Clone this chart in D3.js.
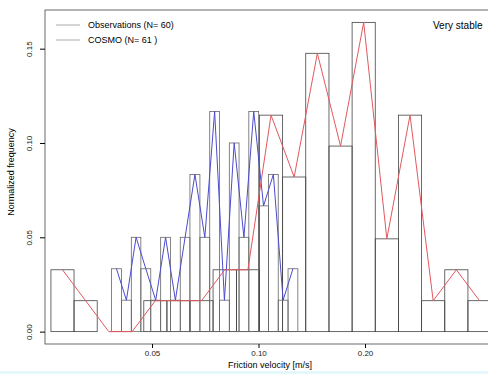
<!DOCTYPE html>
<html>
<head>
<meta charset="utf-8">
<script src="https://cdn.jsdelivr.net/npm/d3@7"></script>
<style>
body { margin: 0; background: #fff; }
text { font-family: "Liberation Sans", Arial, sans-serif; }
</style>
</head>
<body>
<script>
// bin breaks (log x axis)
let cosmoBreaks = [0.0259, 0.0301, 0.0350, 0.0407, 0.0474, 0.0551, 0.0640, 0.0744, 0.0866, 0.1006,
                   0.1170, 0.1360, 0.1582, 0.1839, 0.2138, 0.2486, 0.2891, 0.3361, 0.3908, 0.4544];
let cosmoCounts = [2, 1, 0, 0, 1, 1, 1, 2, 2, 7, 5, 9, 6, 10, 3, 7, 1, 2, 1];

let obsBreaks = [0.0384, 0.0410, 0.0437, 0.0465, 0.0496, 0.0529, 0.0564, 0.0601, 0.0640, 0.0683,
                 0.0728, 0.0776, 0.0827, 0.0881, 0.0939, 0.1001, 0.1067, 0.1137, 0.1212, 0.1292];
let obsCounts = [2, 1, 3, 2, 1, 3, 1, 3, 5, 3, 7, 1, 6, 3, 7, 4, 5, 1, 2];

let nObs = 60;
let nCosmo = 61;

let xTicks = [0.05, 0.10, 0.20];
let yTicks = [0.00, 0.05, 0.10, 0.15];

let w = 488, h = 374;
let padL = 45, padR = 495, padT = 10, padB = 344;

let svg = d3.select("body").append("svg")
    .attr("width", w)
    .attr("height", h);

let xScale = d3.scaleLog()
    .domain([0.05, 0.2])
    .range([152, 365]);

let ymax = d3.max(cosmoCounts) / nCosmo;
let yScale = d3.scaleLinear()
    .domain([-0.04 * ymax, 1.04 * ymax])
    .range([padB, padT]);

function bins(breaks, counts, n) {
  return counts.map((c, i) => ({x0: breaks[i], x1: breaks[i + 1], y: c / n}));
}
let cosmo = bins(cosmoBreaks, cosmoCounts, nCosmo);
let obs = bins(obsBreaks, obsCounts, nObs);

// histogram outlines
function drawBars(data, col) {
  svg.append("g").selectAll("rect")
    .data(data)
    .enter()
    .append("rect")
    .attr("x", d => xScale(d.x0))
    .attr("width", d => xScale(d.x1) - xScale(d.x0))
    .attr("y", d => yScale(d.y))
    .attr("height", d => yScale(0) - yScale(d.y))
    .attr("fill", "none")
    .attr("stroke", col)
    .attr("stroke-width", 0.8);
}
drawBars(cosmo, "#444");
drawBars(obs, "#666");

// frequency polygons
let poly = d3.line()
    .x(d => (xScale(d.x0) + xScale(d.x1)) / 2)
    .y(d => yScale(d.y));

svg.append("path")
    .datum(obs)
    .attr("d", poly)
    .attr("fill", "none")
    .attr("stroke", "#4b4bd0")
    .attr("stroke-width", 1);

svg.append("path")
    .datum(cosmo)
    .attr("d", poly)
    .attr("fill", "none")
    .attr("stroke", "#e2585e")
    .attr("stroke-width", 1);

// frame
svg.append("rect")
    .attr("x", padL).attr("y", padT)
    .attr("width", padR - padL).attr("height", padB - padT)
    .attr("fill", "none")
    .attr("stroke", "#444")
    .attr("stroke-width", 0.8);

// axes
let xAxis = d3.axisBottom(xScale)
    .tickValues(xTicks)
    .tickFormat(d3.format(".2f"))
    .tickSize(4)
    .tickPadding(2);
let gx = svg.append("g")
    .attr("transform", "translate(0," + padB + ")")
    .call(xAxis);
gx.select(".domain").remove();
gx.selectAll("text").attr("font-size", 8).attr("fill", "#222");

let yAxis = d3.axisLeft(yScale)
    .tickValues(yTicks)
    .tickFormat(d3.format(".2f"))
    .tickSize(5)
    .tickPadding(3);
let gy = svg.append("g")
    .attr("transform", "translate(" + padL + ",0)")
    .call(yAxis);
gy.select(".domain").remove();
gy.selectAll("text")
    .attr("font-size", 8)
    .attr("fill", "#222")
    .attr("text-anchor", "middle")
    .attr("x", 0).attr("dy", 0)
    .attr("transform", "translate(-13,0) rotate(-90)");

svg.append("text")
    .attr("x", 270).attr("y", 368)
    .attr("text-anchor", "middle")
    .attr("font-size", 9)
    .text("Friction velocity [m/s]");

svg.append("text")
    .attr("transform", "translate(14,172) rotate(-90)")
    .attr("text-anchor", "middle")
    .attr("font-size", 9)
    .text("Normalized frequency");

// legend
let legend = [["Observations (N= " + nObs + ")", 25], ["COSMO (N= " + nCosmo + " )", 40]];
legend.forEach(l => {
  svg.append("line")
    .attr("x1", 56).attr("x2", 80)
    .attr("y1", l[1]).attr("y2", l[1])
    .attr("stroke", "#aaa");
  svg.append("text")
    .attr("x", 88).attr("y", l[1] + 3)
    .attr("font-size", 9)
    .text(l[0]);
});

svg.append("text")
    .attr("x", 433).attr("y", 29)
    .attr("font-size", 10)
    .text("Very stable");

svg.append("rect")
    .attr("x", 0).attr("y", 371)
    .attr("width", w).attr("height", 3)
    .attr("fill", "#e4f8fa");
</script>
</body>
</html>
